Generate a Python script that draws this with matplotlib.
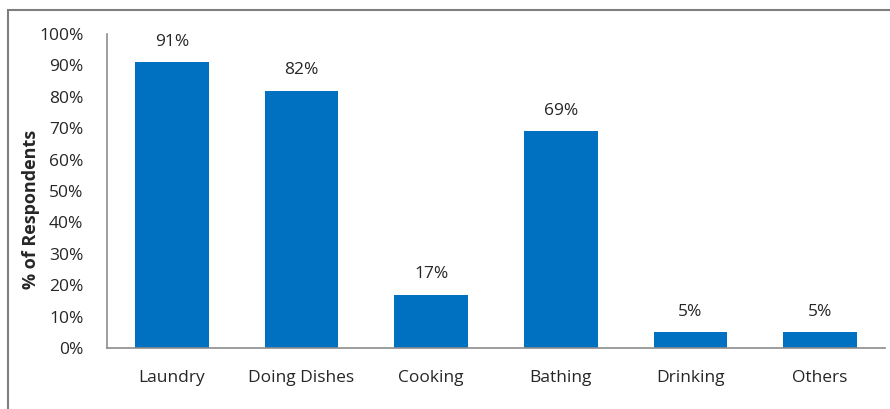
import matplotlib.pyplot as plt
from matplotlib.patches import Rectangle

categories = ['Laundry', 'Doing Dishes', 'Cooking', 'Bathing', 'Drinking', 'Others']
values = [91, 82, 17, 69, 5, 5]
yticks = [0, 10, 20, 30, 40, 50, 60, 70, 80, 90, 100]

plt.rcParams['font.family'] = ['Open Sans', 'DejaVu Sans']

fig = plt.figure(figsize=(8.9, 4.09), dpi=100)
ax = fig.add_axes([107/890, 1 - 348/409, 778/890, 314/409])

x = range(len(categories))
ax.bar(x, values, width=0.57, color='#0070C0')
for i, v in zip(x, values):
    ax.text(i, v + 4, f'{v}%', ha='center', va='bottom', fontsize=12.5, color='#262626')

ax.set_xlim(-0.5, len(categories) - 0.5)
ax.set_ylim(0, 100)
ax.set_yticks(yticks)
ax.set_yticklabels([f'{t}%' for t in yticks])
ax.set_xticks(list(x))
ax.set_xticklabels(categories)
ax.tick_params(axis='both', length=0, labelsize=12.5, colors='#262626')
ax.tick_params(axis='x', pad=16)
ax.tick_params(axis='y', pad=17)
for s in ['top', 'right']:
    ax.spines[s].set_visible(False)
for s in ['left', 'bottom']:
    ax.spines[s].set_color('#8c8c8c')
    ax.spines[s].set_linewidth(1.2)

ax.set_ylabel('% of Respondents', fontsize=13, fontweight='bold', color='#262626')
ax.yaxis.set_label_coords(-0.086, 0.44)

# outer frame (top and left edges)
fig.patches.append(Rectangle((8/890, -0.05), 1.1, 1 - 10/409 + 0.05, transform=fig.transFigure,
                             fill=False, edgecolor='#7f7f7f', linewidth=1.5))

fig.savefig('out.png', dpi=100)
